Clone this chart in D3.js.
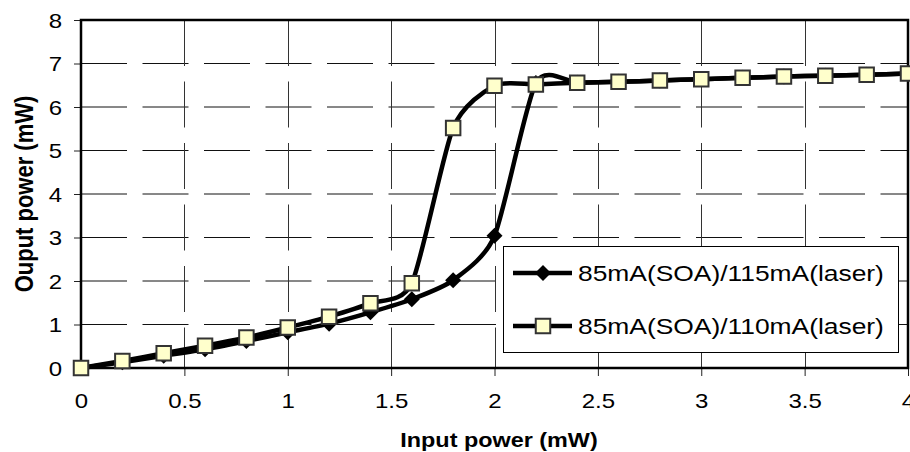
<!DOCTYPE html>
<html>
<head>
<meta charset="utf-8">
<script src="https://cdn.jsdelivr.net/npm/d3@7"></script>
<style>
  html, body { margin: 0; padding: 0; background: #fff; }
  svg { display: block; }
  text { font-family: "Liberation Sans", Arial, sans-serif; fill: #000; }
</style>
</head>
<body>
<div id="chart"></div>
<script>
// ---- data ----
const inputPower = [0, 0.2, 0.4, 0.6, 0.8, 1.0, 1.2, 1.4, 1.6, 1.8, 2.0, 2.2, 2.4, 2.6, 2.8, 3.0, 3.2, 3.4, 3.6, 3.8, 4.0];
const out115 = [0, 0.13, 0.28, 0.43, 0.62, 0.82, 1.02, 1.28, 1.58, 2.02, 3.04, 6.55, 6.56, 6.58, 6.61, 6.64, 6.67, 6.70, 6.72, 6.74, 6.77];
const out110 = [0, 0.16, 0.34, 0.51, 0.70, 0.93, 1.18, 1.49, 1.95, 5.52, 6.49, 6.52, 6.56, 6.58, 6.61, 6.64, 6.67, 6.70, 6.72, 6.74, 6.77];
const seriesNames = ["85mA(SOA)/115mA(laser)", "85mA(SOA)/110mA(laser)"];
const xTicks = [0, 0.5, 1, 1.5, 2, 2.5, 3, 3.5, 4];
const yTicks = [0, 1, 2, 3, 4, 5, 6, 7, 8];
const xTitle = "Input power (mW)";
const yTitle = "Ouput power (mW)";

// ---- layout ----
const W = 910, H = 452;
const SX = 1.2; // horizontal text stretch seen in the reference
const svg = d3.select("#chart").append("svg").attr("width", W).attr("height", H);

const x = d3.scaleLinear().domain([0, 4]).range([81, 908]);
const y = d3.scaleLinear().domain([0, 8]).range([368, 20]);

// gridlines
const grid = svg.append("g");
grid.selectAll("line.h").data(yTicks.filter(v => v > 0 && v < 8)).join("line")
  .attr("x1", x(0)).attr("x2", x(4))
  .attr("y1", d => y(d)).attr("y2", d => y(d))
  .attr("stroke", "#111").attr("stroke-width", 1)
  .attr("stroke-dasharray", "46,15.5");
grid.selectAll("line.v").data(xTicks.filter(v => v > 0 && v < 4)).join("line")
  .attr("x1", d => Math.round(x(d)) + 0.5).attr("x2", d => Math.round(x(d)) + 0.5)
  .attr("y1", y(8)).attr("y2", y(0))
  .attr("stroke", "#333").attr("stroke-width", 1)
  .attr("stroke-dasharray", "46,15.5");

// axes
const xAxis = d3.axisBottom(x).tickValues(xTicks).tickSize(8).tickSizeOuter(0).tickFormat(d3.format("~g"));
const gx = svg.append("g").attr("transform", `translate(0,${y(0)})`).call(xAxis);
gx.select(".domain").remove();
gx.selectAll(".tick line").attr("stroke", "#222").attr("stroke-width", 1);
gx.selectAll(".tick text").remove();
gx.selectAll(".tick").append("text")
  .attr("transform", `translate(0,40) scale(${SX},1)`)
  .attr("text-anchor", "middle")
  .style("font-size", "20px")
  .text(d => d3.format("~g")(d));

const yAxis = d3.axisLeft(y).tickValues(yTicks).tickSize(7).tickSizeOuter(0);
const gy = svg.append("g").attr("transform", `translate(${x(0)},0)`).call(yAxis);
gy.select(".domain").remove();
gy.selectAll(".tick line").attr("stroke", "#222").attr("stroke-width", 1);
gy.selectAll(".tick text").remove();
gy.selectAll(".tick").append("text")
  .attr("transform", `translate(-19,7) scale(${SX},1)`)
  .attr("text-anchor", "end")
  .style("font-size", "20px")
  .text(d => d);

// plot frame
svg.append("rect")
  .attr("x", x(0)).attr("y", y(8))
  .attr("width", x(4) - x(0)).attr("height", y(0) - y(8))
  .attr("fill", "none").attr("stroke", "#000").attr("stroke-width", 2.5);

// series
const curve = d3.curveCardinal.tension(0.3);
const line = d3.line().x(d => x(d[0])).y(d => y(d[1])).curve(curve);
const s1 = inputPower.map((v, i) => [v, out115[i]]);
const s2 = inputPower.map((v, i) => [v, out110[i]]);

const diamond = d3.symbol().type(d3.symbolSquare).size(128);
const square = d3.symbol().type(d3.symbolSquare).size(210);

function drawSeries(g, data, kind) {
  g.append("path").datum(data)
    .attr("d", line)
    .attr("fill", "none").attr("stroke", "#000")
    .attr("stroke-width", 4.5).attr("stroke-linejoin", "round");
  const m = g.selectAll("path.m").data(data).join("path").attr("class", "m");
  if (kind === "diamond") {
    m.attr("d", diamond)
      .attr("transform", d => `translate(${x(d[0])},${y(d[1])}) rotate(45)`)
      .attr("fill", "#000");
  } else {
    m.attr("d", square)
      .attr("transform", d => `translate(${x(d[0])},${y(d[1])})`)
      .attr("fill", "#FFFFCC").attr("stroke", "#333").attr("stroke-width", 2);
  }
}
drawSeries(svg.append("g"), s1, "diamond");
drawSeries(svg.append("g"), s2, "square");

// legend
const lg = svg.append("g");
lg.append("rect").attr("x", 503.5).attr("y", 246.5).attr("width", 395).attr("height", 106)
  .attr("fill", "#fff").attr("stroke", "#000").attr("stroke-width", 1);
const rows = [273, 326];
seriesNames.forEach((name, i) => {
  const ry = rows[i];
  lg.append("line").attr("x1", 513).attr("x2", 572).attr("y1", ry).attr("y2", ry)
    .attr("stroke", "#000").attr("stroke-width", 4.5);
  if (i === 0) {
    lg.append("path").attr("d", diamond).attr("transform", `translate(543,${ry}) rotate(45)`).attr("fill", "#000");
  } else {
    lg.append("path").attr("d", square).attr("transform", `translate(543,${ry})`)
      .attr("fill", "#FFFFCC").attr("stroke", "#333").attr("stroke-width", 2);
  }
  lg.append("text")
    .attr("transform", `translate(578,${ry + 8}) scale(${SX},1)`)
    .style("font-size", "22px")
    .text(name);
});

// axis titles
svg.append("text")
  .attr("transform", `translate(499,447) scale(${SX},1)`)
  .attr("text-anchor", "middle")
  .style("font-size", "19.5px").style("font-weight", "bold")
  .text(xTitle);
svg.append("text")
  .attr("transform", `translate(33,194) scale(${SX},1) rotate(-90)`)
  .attr("text-anchor", "middle")
  .style("font-size", "22px").style("font-weight", "bold")
  .text(yTitle);
</script>
</body>
</html>
